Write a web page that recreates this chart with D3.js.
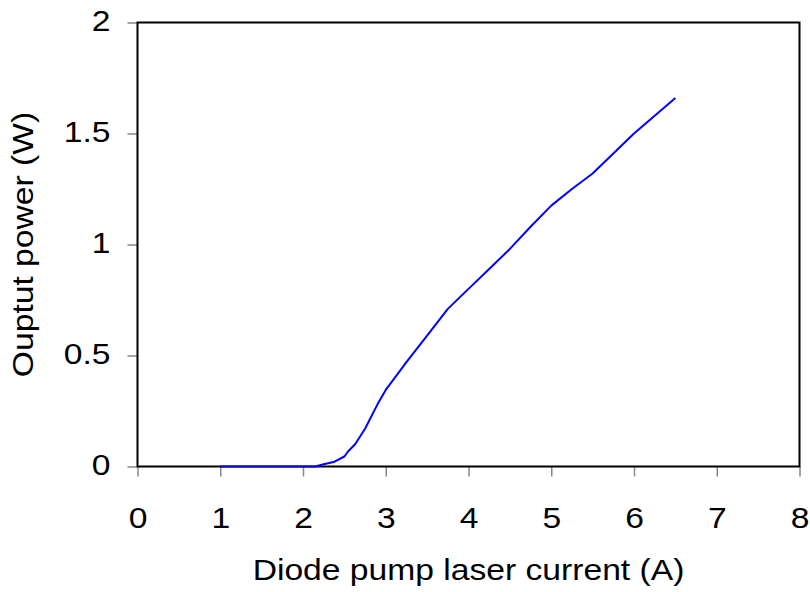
<!DOCTYPE html>
<html>
<head>
<meta charset="utf-8">
<script src="https://cdn.jsdelivr.net/npm/d3@7"></script>
<style>
  body { margin: 0; background: #fff; }
  text { font-family: "Liberation Sans", Arial, sans-serif; fill: #000; }
</style>
</head>
<body>
<div id="chart"></div>
<script>
// Pump current (A) and measured output power (W)
const current = [1.0, 1.5, 2.0, 2.15, 2.25, 2.37, 2.5, 2.55, 2.63, 2.75, 2.9, 3.0, 3.25, 3.5, 3.75, 4.0, 4.25, 4.5, 4.75, 5.0, 5.25, 5.5, 5.75, 6.0, 6.25, 6.5];
const power   = [0, 0, 0, 0, 0.01, 0.02, 0.045, 0.07, 0.10, 0.17, 0.28, 0.345, 0.47, 0.59, 0.71, 0.80, 0.89, 0.98, 1.08, 1.175, 1.25, 1.32, 1.41, 1.50, 1.58, 1.66];
const xTicks = [0, 1, 2, 3, 4, 5, 6, 7, 8];
const yTicks = [0, 0.5, 1, 1.5, 2];

const config = {
    width: 810,
    height: 592,
    margin: {top: 22.5, right: 10.5, bottom: 125.5, left: 137.5},
    fontSize: 29,
    stretch: 1.16   // reference glyphs are wider than Arial
};

const svg = d3.select('#chart').append('svg')
    .attr('width', config.width)
    .attr('height', config.height);

const innerW = config.width - config.margin.left - config.margin.right;
const innerH = config.height - config.margin.top - config.margin.bottom;

const x = d3.scaleLinear().domain([0, 8]).range([0, innerW]);
const y = d3.scaleLinear().domain([0, 2]).range([innerH, 0]);

const chart = svg.append('g')
    .attr('transform', `translate(${config.margin.left},${config.margin.top})`);

// axes with outward gray ticks
const xAxis = chart.append('g')
    .attr('transform', `translate(0,${innerH})`)
    .call(d3.axisBottom(x).tickValues(xTicks).tickSize(10).tickPadding(31).tickFormat(d3.format('d')));

const yAxis = chart.append('g')
    .call(d3.axisLeft(y).tickValues(yTicks).tickSize(10).tickFormat(d => d));

[xAxis, yAxis].forEach(a => {
    a.select('.domain').remove();
    a.selectAll('.tick line').attr('stroke', '#888').attr('stroke-width', 1.5);
    a.selectAll('.tick text')
        .style('font-family', '"Liberation Sans", Arial, sans-serif')
        .style('font-size', config.fontSize + 'px')
        .attr('fill', '#000');
});

xAxis.selectAll('.tick text')
    .attr('transform', `scale(${config.stretch},1)`);

yAxis.selectAll('.tick text')
    .attr('x', 0)
    .attr('dy', '0.28em')
    .attr('transform', `translate(-27,0) scale(${config.stretch},1)`);

// plot frame
chart.append('rect')
    .attr('width', innerW)
    .attr('height', innerH)
    .attr('fill', 'none')
    .attr('stroke', '#000')
    .attr('stroke-width', 2);

// data line
const line = d3.line()
    .x((d, i) => x(current[i]))
    .y(d => y(d));

chart.append('path')
    .datum(power)
    .attr('fill', 'none')
    .attr('stroke', '#0000ff')
    .attr('stroke-width', 2)
    .attr('stroke-linejoin', 'round')
    .attr('d', line);

// axis titles
svg.append('text')
    .attr('transform', `translate(${config.margin.left + innerW / 2},580) scale(${config.stretch},1)`)
    .attr('text-anchor', 'middle')
    .style('font-size', config.fontSize + 'px')
    .text('Diode pump laser current (A)');

svg.append('text')
    .attr('transform', `translate(32.5,${config.margin.top + innerH / 2}) rotate(-90) scale(${config.stretch},1)`)
    .attr('text-anchor', 'middle')
    .style('font-size', config.fontSize + 'px')
    .text('Ouptut power (W)');
</script>
</body>
</html>
